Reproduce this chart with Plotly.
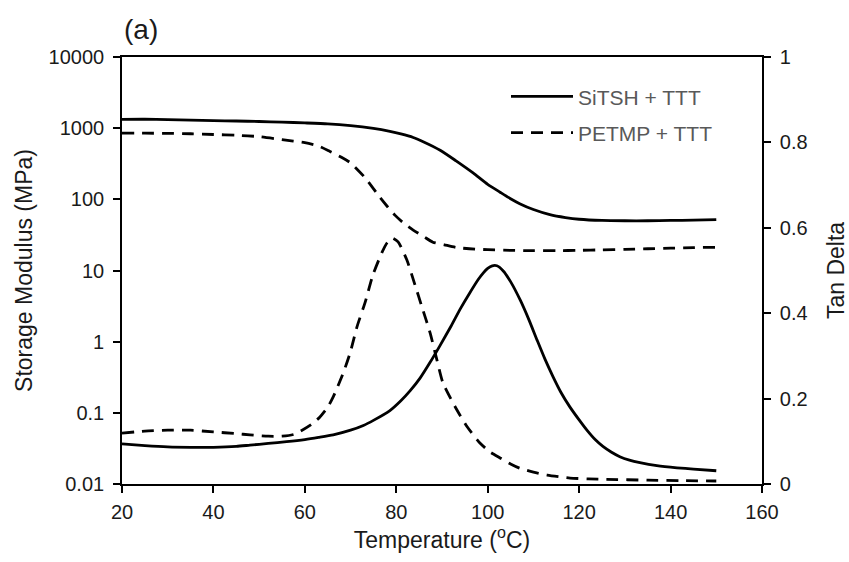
import plotly.graph_objects as go

# ---------------- data ----------------
si_mod_T = [20, 25, 30, 35, 40, 45, 50, 55, 60, 65, 70, 75, 78.6, 81, 83.7, 86, 89.6, 93, 96.8,
            100, 102.7, 105, 107, 110, 113.6, 117, 120, 125, 130, 135, 140, 145, 150]
si_mod_E = [1330, 1335, 1315, 1295, 1275, 1260, 1240, 1215, 1185, 1150, 1085, 990, 900, 830, 740,
            640, 490, 350, 235, 162, 126, 102, 87, 72, 61, 55.5, 52.5, 50.5, 50, 50, 50.5, 51, 52]

pe_mod_T = [20, 25, 30, 35, 40, 45, 50, 55, 60, 63, 65.5, 68, 70, 73.2, 76.4, 78, 79.7, 81.5,
            83.7, 86, 88, 90.5, 93.3, 96, 100, 105, 110, 115, 120, 125, 130, 135, 140, 145, 150]
pe_mod_E = [850, 850, 845, 835, 815, 795, 760, 690, 625, 560, 470, 390, 325, 200, 107, 80, 60, 47,
            37, 30, 25, 23, 21, 20.2, 19.6, 19.2, 19, 19, 19.2, 19.5, 19.8, 20.2, 20.6, 21, 21.2]

si_tan_T = [20, 25, 30, 35, 40, 45, 48, 52, 56, 60, 63, 66.2, 70, 72.8, 75, 78.6, 81, 83, 85.2,
            87.4, 89.5, 92, 94, 96.1, 98, 99, 100, 101, 102, 103.4, 105, 107.1, 109, 110.8, 112.5,
            114.3, 116, 118, 120, 121.7, 123.5, 125.2, 127, 128.9, 131, 133.3, 137, 141.4, 145, 150]
si_tan_D = [0.094, 0.090, 0.087, 0.086, 0.086, 0.088, 0.091, 0.095, 0.099, 0.104, 0.109, 0.115,
            0.126, 0.137, 0.149, 0.172, 0.195, 0.218, 0.248, 0.285, 0.323, 0.37, 0.41, 0.448, 0.48,
            0.494, 0.505, 0.511, 0.511, 0.499, 0.474, 0.431, 0.385, 0.337, 0.293, 0.251, 0.215, 0.18,
            0.15, 0.126, 0.104, 0.088, 0.075, 0.064, 0.056, 0.05, 0.043, 0.038, 0.035, 0.031]

pe_tan_T = [20, 25, 30, 35, 40, 45, 48, 52, 55, 57.5, 59.4, 61.5, 63.3, 65, 66.2, 68.4, 69.9, 71.4,
            73.2, 74.9, 76.9, 78, 79.1, 80.4, 82.3, 84.1, 85.6, 87.4, 88.9, 90.2, 92.4, 94, 95.5,
            98.3, 100.5, 102.7, 105, 107, 110, 113, 118, 122, 126, 135, 142, 150]
pe_tan_D = [0.119, 0.124, 0.126, 0.126, 0.122, 0.118, 0.115, 0.112, 0.112, 0.116, 0.126, 0.14,
            0.157, 0.18, 0.204, 0.26, 0.307, 0.368, 0.426, 0.49, 0.543, 0.565, 0.576, 0.567, 0.525,
            0.466, 0.415, 0.354, 0.29, 0.237, 0.19, 0.16, 0.134, 0.096, 0.075, 0.061, 0.047, 0.037,
            0.028, 0.021, 0.014, 0.012, 0.011, 0.009, 0.008, 0.007]

series_names = ["SiTSH + TTT", "PETMP + TTT"]
left_ticks = [0.01, 0.1, 1, 10, 100, 1000, 10000]
left_ticktext = ["0.01", "0.1", "1", "10", "100", "1000", "10000"]
right_ticks = [0, 0.2, 0.4, 0.6, 0.8, 1]
right_ticktext = ["0", "0.2", "0.4", "0.6", "0.8", "1"]
x_ticks = [20, 40, 60, 80, 100, 120, 140, 160]

FONT = "Liberation Sans, Arial, sans-serif"
SOLID = dict(color="black", width=2.8, shape="spline", smoothing=0.6)
DASHED = dict(color="black", width=2.8, dash="12px,8px", shape="spline", smoothing=0.6)

fig = go.Figure()
fig.add_trace(go.Scatter(x=si_mod_T, y=si_mod_E, mode="lines", line=SOLID,
                         name=series_names[0], legendgroup="a", yaxis="y"))
fig.add_trace(go.Scatter(x=pe_mod_T, y=pe_mod_E, mode="lines", line=DASHED,
                         name=series_names[1], legendgroup="b", yaxis="y"))
fig.add_trace(go.Scatter(x=si_tan_T, y=si_tan_D, mode="lines", line=SOLID,
                         name=series_names[0], legendgroup="a", showlegend=False, yaxis="y2"))
fig.add_trace(go.Scatter(x=pe_tan_T, y=pe_tan_D, mode="lines", line=DASHED,
                         name=series_names[1], legendgroup="b", showlegend=False, yaxis="y2"))

axis_common = dict(showline=True, linecolor="black", linewidth=1.6, ticks="outside",
                   ticklen=7, tickwidth=1.6, tickcolor="black", showgrid=False, zeroline=False,
                   automargin=False,
                   tickfont=dict(family=FONT, size=20, color="#1a1a1a"))

fig.update_layout(
    width=849, height=562,
    margin=dict(l=122, r=87, t=57, b=78, autoexpand=False),
    paper_bgcolor="white", plot_bgcolor="white",
    font=dict(family=FONT, size=20, color="#1a1a1a"),
    xaxis=dict(range=[20, 160], tickvals=x_ticks, mirror=True, ticklabelstandoff=2,
               title=dict(text="Temperature (<sup>o</sup>C)", font=dict(size=23), standoff=10),
               **axis_common),
    yaxis=dict(type="log", range=[-2, 4], tickvals=left_ticks, ticktext=left_ticktext,
               ticklabelstandoff=5,
               title=dict(text="Storage Modulus (MPa)", font=dict(size=23), standoff=10),
               **axis_common),
    yaxis2=dict(overlaying="y", side="right", range=[0, 1], tickvals=right_ticks,
                ticktext=right_ticktext, ticklabelstandoff=5,
                title=dict(text="Tan Delta", font=dict(size=23), standoff=21),
                **axis_common),
    showlegend=True,
    legend=dict(x=0.6, y=0.955, xanchor="left", yanchor="top", bgcolor="rgba(0,0,0,0)",
                font=dict(family=FONT, size=21, color="#595959"), itemwidth=62,
                traceorder="grouped", tracegroupgap=6),
    annotations=[dict(text="(a)", xref="paper", yref="paper", x=0.0, y=1.0, yshift=10,
                      xanchor="left", yanchor="bottom", showarrow=False,
                      font=dict(family=FONT, size=28, color="#1a1a1a"))],
)

fig.write_html("out.html")
